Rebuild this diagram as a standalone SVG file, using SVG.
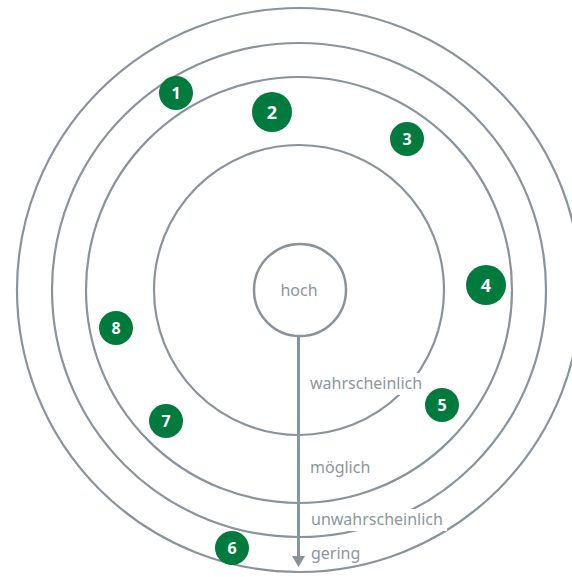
<svg xmlns="http://www.w3.org/2000/svg" width="572" height="577" viewBox="0 0 572 577">
<style>
.ring{fill:none;stroke:#88939b;stroke-width:2.2}
.lbl{font-family:"Noto Sans","Open Sans",sans-serif;font-size:16px;fill:#8c969d}
.bg{fill:#ffffff}
.dot{fill:#007a3d}
.num{font-family:"Noto Sans","Open Sans",sans-serif;font-weight:bold;fill:#ffffff;text-anchor:middle}
</style>
<rect width="572" height="577" fill="#ffffff"/>
<g id="rings">
<circle class="ring" cx="299" cy="290" r="282"/>
<circle class="ring" cx="299" cy="290" r="247"/>
<circle class="ring" cx="299" cy="290" r="213"/>
<circle class="ring" cx="299" cy="290" r="145"/>
</g>
<g id="connectors">
<line x1="298.5" y1="336" x2="298.5" y2="558" stroke="#88939b" stroke-width="3"/>
<polygon points="292,556 305,556 298.5,567" fill="#88939b"/>
</g>
<g id="hoch">
<circle cx="300" cy="290" r="46" fill="#ffffff" stroke="#88939b" stroke-width="2.5"/>
<text class="lbl" x="299" y="296" text-anchor="middle">hoch</text>
</g>
<g id="wahrscheinlich">
<rect class="bg" x="307" y="373" width="119" height="22"/>
<text class="lbl" x="310" y="389">wahrscheinlich</text>
</g>
<g id="moeglich">
<text class="lbl" x="310" y="473">möglich</text>
</g>
<g id="unwahrscheinlich">
<rect class="bg" x="308" y="509" width="139" height="22"/>
<text class="lbl" x="311" y="525">unwahrscheinlich</text>
</g>
<g id="gering">
<text class="lbl" x="311" y="559">gering</text>
</g>
<g id="n1"><circle class="dot" cx="176" cy="93" r="17"/><text class="num" x="176" y="99" font-size="16">1</text></g>
<g id="n2"><circle class="dot" cx="272" cy="112" r="20"/><text class="num" x="272" y="118.5" font-size="18">2</text></g>
<g id="n3"><circle class="dot" cx="407" cy="139" r="17"/><text class="num" x="407" y="145" font-size="16">3</text></g>
<g id="n4"><circle class="dot" cx="486" cy="285" r="20"/><text class="num" x="486" y="291.5" font-size="18">4</text></g>
<g id="n5"><circle class="dot" cx="442" cy="405" r="17"/><text class="num" x="442" y="411" font-size="16">5</text></g>
<g id="n6"><circle class="dot" cx="232" cy="548" r="17"/><text class="num" x="232" y="554" font-size="16">6</text></g>
<g id="n7"><circle class="dot" cx="166" cy="421" r="17"/><text class="num" x="166" y="427" font-size="16">7</text></g>
<g id="n8"><circle class="dot" cx="116" cy="328" r="17"/><text class="num" x="116" y="334" font-size="16">8</text></g>
</svg>
